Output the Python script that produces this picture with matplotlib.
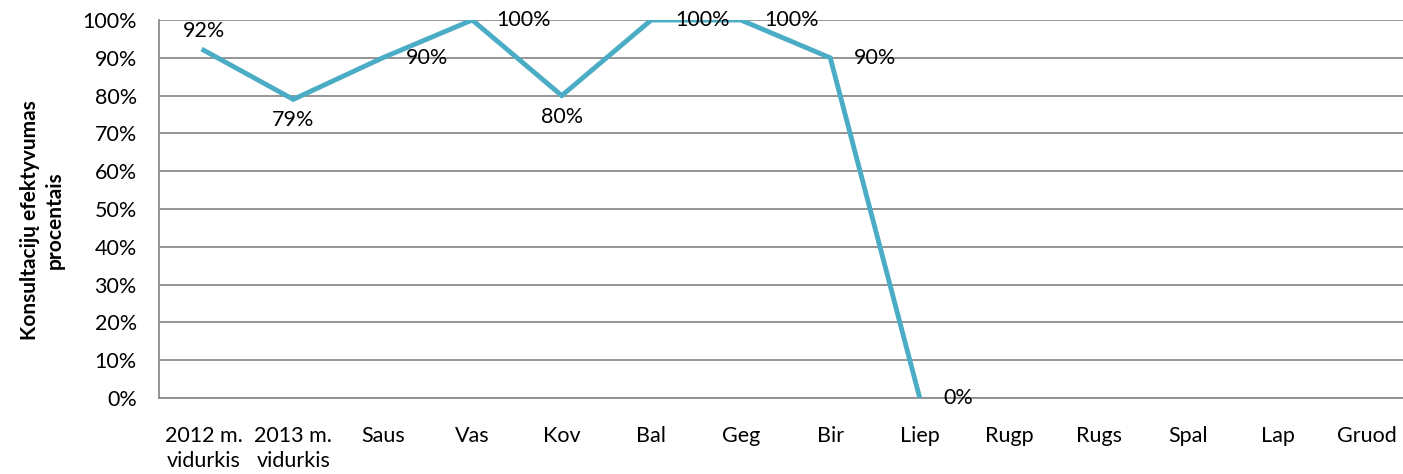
import matplotlib.pyplot as plt
from matplotlib.ticker import PercentFormatter

# data
categories = ['2012 m.\nvidurkis', '2013 m.\nvidurkis', 'Saus', 'Vas', 'Kov', 'Bal',
              'Geg', 'Bir', 'Liep', 'Rugp', 'Rugs', 'Spal', 'Lap', 'Gruod']
values = [92, 79, 90, 100, 80, 100, 100, 90, 0]
label_pos = ['above', 'below', 'right', 'right', 'below', 'right', 'right', 'right', 'right']

plt.rcParams['font.family'] = ['Lato', 'DejaVu Sans']
fs = 15.5

fig = plt.figure(figsize=(14.03, 4.74), dpi=100)
# plot area runs a little past the right edge, as in the source image
ax = fig.add_axes([159/1403, 1-398/474, 1253/1403, 378/474])

x = list(range(len(values)))
ax.plot(x, values, color='#4BACC6', lw=3.5, solid_joinstyle='miter', zorder=3)

for xi, v, pos in zip(x, values, label_pos):
    txt = '%d%%' % v
    if pos == 'above':
        ax.annotate(txt, (xi, v), xytext=(0, 7), textcoords='offset points',
                    ha='center', va='bottom', fontsize=fs)
    elif pos == 'below':
        ax.annotate(txt, (xi, v), xytext=(0, -8), textcoords='offset points',
                    ha='center', va='top', fontsize=fs)
    else:
        ax.annotate(txt, (xi, v), xytext=(17, 0), textcoords='offset points',
                    ha='left', va='center', fontsize=fs)

ax.set_xlim(-0.5, len(categories) - 0.5)
ax.set_ylim(0, 100)
ax.set_yticks(range(0, 101, 10))
ax.yaxis.set_major_formatter(PercentFormatter(decimals=0))
ax.set_xticks(range(len(categories)))
ax.set_xticklabels(categories, fontsize=fs, linespacing=1.3)
ax.tick_params(axis='y', labelsize=fs, length=0, pad=16)
ax.tick_params(axis='x', length=0, pad=20)

ax.grid(axis='y', color='#8c8c8c', lw=1.3)
ax.set_axisbelow(True)
for s in ['top', 'right']:
    ax.spines[s].set_visible(False)
for s in ['left', 'bottom']:
    ax.spines[s].set_color('#8c8c8c')
    ax.spines[s].set_linewidth(1.3)

ax.set_ylabel('Konsultacijų efektyvumas\nprocentais', fontsize=15, fontweight='bold',
              linespacing=1.3)
ax.yaxis.set_label_coords(-0.075, 0.47)

fig.savefig('out.png', dpi=100)
